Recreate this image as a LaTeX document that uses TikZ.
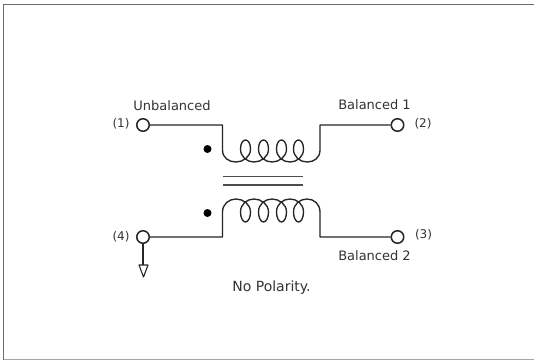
\documentclass[tikz,border=0pt]{standalone}
\usepackage{fontspec}
\setmainfont{DejaVu Sans}
\definecolor{ink}{gray}{0.15}
\definecolor{coreink}{gray}{0.3}
\definecolor{labelink}{gray}{0.2}
\tikzset{
  wire/.style={draw=ink,line width=1.35pt,line join=round},
  corewire/.style={draw=coreink,line width=1.5pt},
  stem/.style={draw=ink,line width=1.1pt,line join=round},
  term/.style={circle,draw=ink,fill=white,line width=1.5pt,minimum size=12.5pt,inner sep=0pt},
  phase/.style={circle,fill=black,minimum size=8pt,inner sep=0pt},
  lab/.style={text=labelink,font=\fontsize{13}{15}\selectfont,inner sep=0pt},
  wide/.style={text=labelink,font=\fontsize{14}{16}\selectfont,inner sep=0pt},
  num/.style={text=labelink,font=\fontsize{12}{14}\selectfont,inner sep=0pt}
}
\begin{document}
\begin{tikzpicture}[x=1pt,y=-1pt]
\useasboundingbox (0,0) rectangle (534,360);
\fill[white] (0,0) rectangle (534,360);
\draw[gray!85!black,line width=1.6pt] (3.5,360) -- (3.5,4.5) -- (534,4.5);
\draw[gray!70,line width=1.4pt] (3.5,359.5) -- (534,359.5);
% terminals
\node[term] (t1) at (143,125) {};
\node[term] (t2) at (397.5,125) {};
\node[term] (t3) at (397.5,237) {};
\node[term] (t4) at (143,237) {};
\coordinate (a) at (222.5,125);
\coordinate (b) at (320,125);
\coordinate (c) at (320,237);
\coordinate (d) at (222.5,237);
% top winding
\draw[wire] (t1) -- (a) -- (222.5,150)
  .. controls (222.5,158) and (229,162) .. (236,162)
  .. controls (243,162) and (250.5,157) .. (250.5,149)
  .. controls (250.5,143) and (248,140) .. (245.5,140)
  .. controls (243,140) and (240.5,143) .. (240.5,149)
  .. controls (240.5,157) and (247,162) .. (254,162)
  .. controls (261,162) and (268.5,157) .. (268.5,149)
  .. controls (268.5,143) and (266,140) .. (263.5,140)
  .. controls (261,140) and (258.5,143) .. (258.5,149)
  .. controls (258.5,157) and (265,162) .. (272,162)
  .. controls (279,162) and (286.5,157) .. (286.5,149)
  .. controls (286.5,143) and (284,140) .. (281.5,140)
  .. controls (279,140) and (276.5,143) .. (276.5,149)
  .. controls (276.5,157) and (283,162) .. (290,162)
  .. controls (297,162) and (303.5,157) .. (303.5,149)
  .. controls (303.5,143) and (301,140) .. (298.5,140)
  .. controls (296,140) and (293.5,143) .. (293.5,149)
  .. controls (293.5,157) and (300,162) .. (307,162)
  .. controls (314,162) and (320,158) .. (320,150)
  -- (b) -- (t2);
% core
\draw[corewire] (223,176.5) -- (303,176.5);
\draw[corewire] (223,185) -- (303,185);
% bottom winding
\draw[wire] (t4) -- (d) -- (222.5,212)
  .. controls (222.5,204) and (229,199) .. (236,199)
  .. controls (243,199) and (250.5,204) .. (250.5,212)
  .. controls (250.5,218) and (248,222) .. (245.5,222)
  .. controls (243,222) and (240.5,218) .. (240.5,212)
  .. controls (240.5,204) and (247,199) .. (254,199)
  .. controls (261,199) and (268.5,204) .. (268.5,212)
  .. controls (268.5,218) and (266,222) .. (263.5,222)
  .. controls (261,222) and (258.5,218) .. (258.5,212)
  .. controls (258.5,204) and (265,199) .. (272,199)
  .. controls (279,199) and (286.5,204) .. (286.5,212)
  .. controls (286.5,218) and (284,222) .. (281.5,222)
  .. controls (279,222) and (276.5,218) .. (276.5,212)
  .. controls (276.5,204) and (283,199) .. (290,199)
  .. controls (297,199) and (303.5,204) .. (303.5,212)
  .. controls (303.5,218) and (301,222) .. (298.5,222)
  .. controls (296,222) and (293.5,218) .. (293.5,212)
  .. controls (293.5,204) and (300,199) .. (307,199)
  .. controls (314,199) and (320,204) .. (320,212)
  -- (c) -- (t3);
% ground
\coordinate (g) at (143,265);
\draw[stem] (t4) -- (g);
\draw[stem] (139,265) -- (148,265) -- (143.5,277) -- cycle;
% dots
\node[phase] (p1) at (207.5,149) {};
\node[phase] (p2) at (207.5,213) {};
% labels
\node[lab] (l1) at (172,106) {Unbalanced};
\node[lab] (l2) at (374.5,105) {Balanced 1};
\node[lab] (l3) at (374.5,256) {Balanced 2};
\node[num] (n1) at (121,124) {(1)};
\node[num] (n2) at (423,124) {(2)};
\node[num] (n3) at (423.5,235) {(3)};
\node[num] (n4) at (121,237) {(4)};
\node[wide] (np) at (271.5,288) {No Polarity.};
\end{tikzpicture}
\end{document}
